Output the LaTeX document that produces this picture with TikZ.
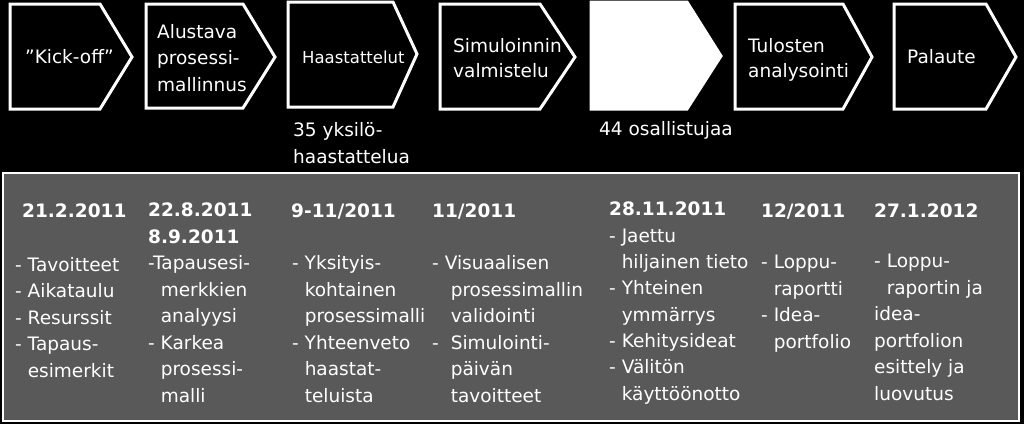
\documentclass[tikz,border=0pt]{standalone}
\usepackage{fontspec}
\setmainfont{DejaVu Sans}
\usetikzlibrary{positioning}
\definecolor{boxgray}{HTML}{595959}
\newcommand{\ind}{\phantom{- }}

\begin{document}
\begin{tikzpicture}[x=1pt,y=-1pt,
    chev/.style={draw=white,line width=3pt,line join=miter},
    steptext/.style={text=white,anchor=base west,inner sep=0pt,align=left,
        font=\fontsize{18.5}{26.5}\selectfont},
    datetext/.style={steptext,font=\fontsize{18.5}{26.5}\selectfont\bfseries}]
        \useasboundingbox (0,0) rectangle (1024,424);
        \fill[black] (0,0) rectangle (1024,424);

        % phases (multi-line texts sit on the baseline of their last line)
        \draw[chev] (10,4) -- (100,4) -- (132,57) -- (100,109) -- (10,109) -- cycle;
        \draw[chev] (146,4) -- (243,4) -- (275,57) -- (243,108) -- (146,108) -- cycle;
        \draw[chev] (288,2) -- (393,2) -- (417,54) -- (393,107) -- (288,107) -- cycle;
        \draw[chev] (440,4) -- (540,4) -- (575,57) -- (540,109) -- (440,109) -- cycle;
        \draw[chev,fill=white] (591,2) -- (687,2) -- (721,56) -- (687,109) -- (591,109) -- cycle;
        \draw[chev] (735,4) -- (843,4) -- (872,57) -- (843,109) -- (735,109) -- cycle;
        \draw[chev] (894,4) -- (986,4) -- (1016,57) -- (986,109) -- (894,109) -- cycle;

        \node[steptext] (kickoff) at (25,63) {”Kick-off”};
        \node[steptext] (alustava) at (157,91) {Alustava\\prosessi-\\mallinnus};
        \node[steptext,font=\fontsize{16.5}{20}\selectfont] (haast) at (302,63) {Haastattelut};
        \node[steptext,font=\fontsize{18.5}{25}\selectfont] (valmistelu) at (453,77) {Simuloinnin\\valmistelu};
        \node[steptext,font=\fontsize{18.5}{25}\selectfont] (tulokset) at (748,77) {Tulosten\\analysointi};
        \node[steptext] (palaute) at (907,63) {Palaute};

        \node[steptext] (haastnote) at (293,163) {35 yksilö-\\haastattelua};
        \node[steptext] (simnote) at (599,135) {44 osallistujaa};

        % timeline
        \draw[white,line width=2pt,fill=boxgray] (3,173) rectangle (1019,421);

        \node[datetext] (date1) at (22,217) {21.2.2011};
        \node[datetext] (date2) at (148,243) {22.8.2011\\8.9.2011};
        \node[datetext] (date3) at (291,217) {9-11/2011};
        \node[datetext] (date4) at (432,217) {11/2011};
        \node[datetext] (date5) at (609,215) {28.11.2011};
        \node[datetext] (date6) at (761,217) {12/2011};
        \node[datetext] (date7) at (874,217) {27.1.2012};

        \node[steptext] (tasks1) at (15,377) {- Tavoitteet\\- Aikataulu\\- Resurssit\\- Tapaus-\\\ind esimerkit};
        \node[steptext] (tasks2) at (148,402) {-Tapausesi-\\\ind merkkien\\\ind analyysi\\- Karkea\\\ind prosessi-\\\ind malli};
        \node[steptext] (tasks3) at (292,402) {- Yksityis-\\\ind kohtainen\\\ind prosessimalli\\- Yhteenveto\\\ind haastat-\\\ind teluista};
        \node[steptext] (tasks4) at (432,402) {- Visuaalisen\\\ind\hspace*{6pt}prosessimallin\\\ind\hspace*{6pt}validointi\\-\hspace*{6pt} Simulointi-\\\ind\hspace*{6pt}päivän\\\ind\hspace*{6pt}tavoitteet};
        \node[steptext,font=\fontsize{18.5}{26.3}\selectfont] (tasks5) at (609,400) {- Jaettu\\\ind hiljainen tieto\\- Yhteinen\\\ind ymmärrys\\- Kehitysideat\\- Välitön\\\ind käyttöönotto};
        \node[steptext] (tasks6) at (761,348) {- Loppu-\\\ind raportti\\- Idea-\\\ind portfolio};
        \node[steptext] (tasks7) at (874,400) {- Loppu-\\\ind raportin ja\\idea-\\portfolion\\esittely ja\\luovutus};
\end{tikzpicture}
\end{document}
